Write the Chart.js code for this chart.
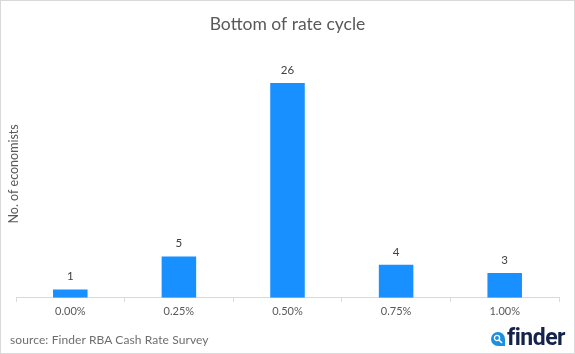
<!DOCTYPE html>
<html>
<head>
<meta charset="utf-8">
<script src="https://cdn.jsdelivr.net/npm/chart.js@4/dist/chart.umd.min.js"></script>
<style>
    html, body { margin: 0; padding: 0; background: #fff; }
    #wrap { position: relative; width: 575px; height: 354px; overflow: hidden; }
    #wrap canvas { position: absolute; left: 0; top: 0; }
    #frame { position: absolute; left: 0; top: 0; width: 575px; height: 354px; box-sizing: border-box; border: 1px solid #d9d9d9; }
    #source { position: absolute; left: 10px; top: 332px; font: 12px Lato, sans-serif; letter-spacing: 0.1px; color: #6e6e6e; white-space: nowrap; }
    #logo { position: absolute; left: 490px; top: 325px; height: 26px; width: 80px; }
    #logo svg { position: absolute; left: 0; top: 6px; }
    #logo span { position: absolute; left: 17px; top: 0; font: bold 23px/26px Roboto, sans-serif; letter-spacing: -0.5px; color: #14234b; }
</style>
</head>
<body>
<div id="wrap">
    <canvas id="rate_chart" width="575" height="354"></canvas>
    <div id="frame"></div>
    <div id="source">source: Finder RBA Cash Rate Survey</div>
    <div id="logo">
        <svg width="16" height="16" viewBox="0 0 16 16">
            <path d="M8 1 A7 7 0 1 0 8 15 L15 15 L15 8 A7 7 0 0 0 8 1 Z" fill="#1b8fe0"/>
            <circle cx="7" cy="7" r="2.6" fill="none" stroke="#fff" stroke-width="1.3"/>
            <line x1="9" y1="9" x2="12" y2="12" stroke="#fff" stroke-width="1.5"/>
        </svg>
        <span>finder</span>
    </div>
</div>
<script>
// chart values
const categories = ['0.00%', '0.25%', '0.50%', '0.75%', '1.00%'];
const economists = [1, 5, 26, 4, 3];
const chartTitle = 'Bottom of rate cycle';
const yTitle = 'No. of economists';

// prints the count above each bar
const barLabels = {
    id: 'barLabels',
    afterDatasetsDraw(chart) {
        const ctx = chart.ctx;
        const bars = chart.getDatasetMeta(0).data;
        ctx.save();
        ctx.font = '11.5px Lato, sans-serif';
        ctx.fillStyle = '#404040';
        ctx.textAlign = 'center';
        ctx.textBaseline = 'bottom';
        bars.forEach((bar, i) => {
            ctx.fillText(economists[i], bar.x, bar.y - 7);
        });
        ctx.restore();
    }
};

var ctx = document.getElementById('rate_chart').getContext('2d');

new Chart(ctx, {
    type: 'bar',
    data: {
        labels: categories,
        datasets: [{
            data: economists,
            backgroundColor: '#1890ff',
            categoryPercentage: 1,
            barPercentage: 0.318
        }]
    },
    options: {
        responsive: false,
        animation: false,
        layout: { padding: { left: 16, right: 16, top: 0, bottom: 33 } },
        plugins: {
            legend: { display: false },
            tooltip: { enabled: false },
            title: {
                display: true,
                text: chartTitle,
                color: '#595959',
                font: { family: 'Lato, sans-serif', size: 17.5, weight: 'normal' },
                padding: { top: 14, bottom: 15 }
            }
        },
        scales: {
            x: {
                grid: { drawOnChartArea: false, color: '#d9d9d9', tickLength: 4 },
                border: { color: '#d9d9d9' },
                ticks: { color: '#595959', font: { family: 'Lato, sans-serif', size: 11 }, padding: 3, maxRotation: 0 }
            },
            y: {
                min: 0,
                max: 30,
                afterFit: function (scale) { scale.width = 0; },
                grid: { display: false },
                border: { display: false },
                ticks: { display: false },
                title: {
                    display: true,
                    text: yTitle,
                    color: '#595959',
                    font: { family: 'Lato, sans-serif', size: 12.5 },
                    padding: { top: -10, bottom: 0 }
                }
            }
        }
    },
    plugins: [barLabels]
});
</script>
</body>
</html>
